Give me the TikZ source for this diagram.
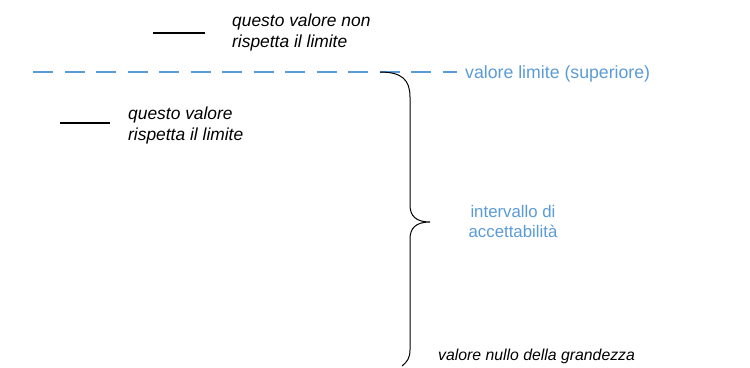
\documentclass[tikz,border=0pt]{standalone}
\usepackage{fontspec}
\setmainfont{Liberation Sans}
\definecolor{limblue}{HTML}{5B9BD5}
\begin{document}
\begin{tikzpicture}[x=1pt,y=-1pt,
  lbl/.style={font=\fontsize{17.4}{21}\selectfont, inner sep=0pt, align=left},
  ital/.style={lbl, font=\fontsize{17.4}{21}\selectfont\itshape},
  bluetxt/.style={lbl, text=limblue},
  mark line/.style={line width=2pt, black},
  limit line/.style={line width=2.4pt, limblue, dash pattern=on 20pt off 11.5pt},
  bracepath/.style={line width=1pt, black}]
\useasboundingbox (0,0) rectangle (750,367);
% limit line
\coordinate (dl) at (33,72);
\coordinate (dr) at (457,72);
\draw[limit line] (dl) -- (dr);
\node[bluetxt, font=\fontsize{17.7}{21}\selectfont, anchor=base west] (limtxt) at (465,78) {valore limite (superiore)};
% marks
\coordinate (m1a) at (153,33);
\coordinate (m1b) at (205,33);
\draw[mark line] (m1a) -- (m1b);
\node[ital, anchor=base west] (t1) at (232,47) {questo valore non\\rispetta il limite};
\coordinate (m2a) at (60,123);
\coordinate (m2b) at (110,123);
\draw[mark line] (m2a) -- (m2b);
\node[ital, anchor=base west] (t2) at (128,140) {questo valore\\rispetta il limite};
% brace
\coordinate (bt) at (380,72);
\coordinate (tip) at (430,222);
\coordinate (bb) at (402,366);
\draw[bracepath] (bt) .. controls (402,72) and (410,80) .. (410,97)
  -- (410,205) .. controls (410,216) and (416,222) .. (tip)
  .. controls (416,222) and (410,228) .. (410,239)
  -- (410,350) .. controls (410,358) and (407,362) .. (bb);
\node[bluetxt, font=\fontsize{16.8}{19.5}\selectfont, align=center, anchor=base] (interv) at (513,237) {intervallo di\\accettabilità};
\node[ital, font=\fontsize{15.8}{18}\selectfont\itshape, anchor=base west] (nullo) at (438,360) {valore nullo della grandezza};
\end{tikzpicture}
\end{document}
